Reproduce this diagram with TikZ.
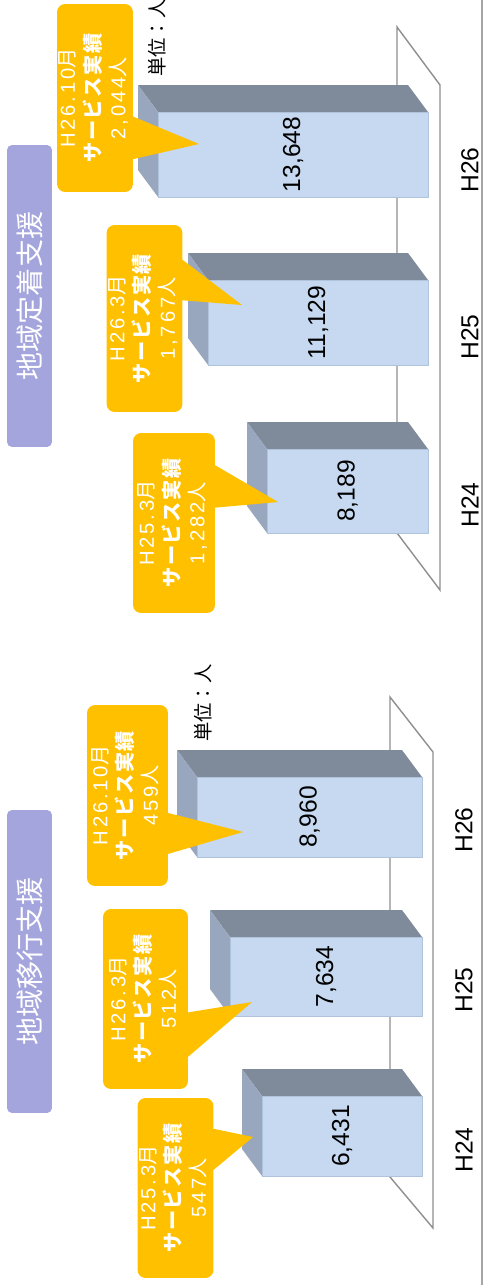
\documentclass[tikz,border=0pt]{standalone}
\usepackage{fontspec}
\usepackage{graphicx}
\setmainfont{Liberation Sans}
\newfontfamily\jp{Noto Sans CJK JP}
\newfontfamily\jpl{Noto Sans CJK JP}[LetterSpace=8]
\newfontfamily\spacednum{Liberation Sans}[LetterSpace=14]
\usetikzlibrary{calc}

\definecolor{barblue}{HTML}{C6D9F1}
\definecolor{barline}{HTML}{AFC3DC}
\definecolor{bardark}{HTML}{7F8A9A}
\definecolor{bartop}{HTML}{98A7BD}
\definecolor{callorange}{HTML}{FFC000}
\definecolor{titlepurple}{HTML}{A5A5DD}
\definecolor{floorgray}{HTML}{8F8F8F}

% one column: name, left, top, right, bottom, value (pixel units)
\newcommand{\colbar}[6]{%
  \fill[sideface] (#2,#3) -- ++(-20,-27) -- (#4-20,#3-27) -- (#4,#3) -- cycle;
  \fill[topface] (#2,#3) -- ++(-20,-27) -- (#2-20,#5-27) -- (#2,#5) -- cycle;
  \node[frontface, minimum width={0.02cm*(#4-#2)}, minimum height={0.02cm*(#5-#3)}]
    (#1) at ({(#2+#4)/2},{(#3+#5)/2}) {\rotatebox{90}{#6}};
}
% text of a callout: month, count
\newcommand{\calltext}[2]{\rotatebox{90}{\begin{tabular}{@{}c@{}}
  {\spacednum #1}{\jp 月}\\
  {\jpl\bfseries サービス実績}\\
  {\spacednum #2}{\jp 人}
\end{tabular}}}

\begin{document}
\begin{tikzpicture}[x=0.02cm, y=-0.02cm,
    frontface/.style={fill=barblue, draw=barline, line width=0.4pt, inner sep=0pt, outer sep=0pt,
      font=\fontsize{14}{16}\selectfont},
    sideface/.style={fill=bardark},
    topface/.style={fill=bartop},
    callout/.style={fill=callorange, rounded corners=0.16cm, inner sep=0pt, text=white,
      font=\fontsize{11.5}{14.4}\selectfont},
    titlebox/.style={fill=titlepurple, rounded corners=0.1cm, inner sep=0pt, text=white,
      minimum width=0.9cm, font=\jp\fontsize{16}{18}\selectfont},
    floor/.style={fill=white, draw=floorgray, line width=0.8pt},
    catlabel/.style={rotate=90, inner sep=0pt, font=\fontsize{14}{16}\selectfont},
    unitlabel/.style={rotate=90, inner sep=0pt, font=\jp\fontsize{11}{13}\selectfont}]
  \useasboundingbox (0,0) rectangle (484,1285);
  \draw[floorgray!80, line width=1pt] (482,0) -- (482,1285);

  % top chart: floor
  \draw[floor] (397,27) -- (440,85) -- (440,590) -- (397,533) -- cycle;
  % top chart: columns
  \colbar{fa26}{158}{112}{428}{197}{13,648}
  \colbar{fa25}{208}{280}{428}{365}{11,129}
  \colbar{fa24}{267}{449}{428}{533}{8,189}
  % top chart: callouts
  \node[callout, minimum width=1.48cm, minimum height=3.76cm] (fc26) at (95,98) {\calltext{H26.10}{2,044}};
  \coordinate (ft26) at (199,144);
  \fill[callorange] ($(fc26.east)+(-4,17)$) -- (ft26) -- ($(fc26.east)+(-4,62)$) -- cycle;
  \node[callout, minimum width=1.5cm, minimum height=3.74cm] (fc25) at (144.5,318.5) {\calltext{H26.3}{1,767}};
  \coordinate (ft25) at (242,305);
  \fill[callorange] ($(fc25.east)+(-4,-61.5)$) -- (ft25) -- ($(fc25.east)+(-4,-18.5)$) -- cycle;
  \node[callout, minimum width=1.64cm, minimum height=3.6cm] (fc24) at (174,523) {\calltext{H25.3}{1,282}};
  \coordinate (ft24) at (278,502);
  \fill[callorange] ($(fc24.east)+(-4,-60)$) -- (ft24) -- ($(fc24.east)+(-4,-15)$) -- cycle;
  % top chart: titles and labels
  \node[titlebox, minimum height=6.04cm] (ftitle) at (29.5,296) {\rotatebox{90}{地域定着支援}};
  \node[unitlabel] (funit) at (157,38) {単位：人};
  \node[catlabel] (fl26) at (470,170) {H26};
  \node[catlabel] (fl25) at (470,337) {H25};
  \node[catlabel] (fl24) at (470,505) {H24};

  % bottom chart: floor
  \draw[floor] (390,697) -- (433,752) -- (433,1228) -- (390,1177) -- cycle;
  % bottom chart: columns
  \colbar{ia26}{197}{777}{422}{857}{8,960}
  \colbar{ia25}{230}{937}{422}{1016}{7,634}
  \colbar{ia24}{262}{1096}{422}{1176}{6,431}
  % bottom chart: callouts
  \node[callout, minimum width=1.62cm, minimum height=3.62cm] (ic26) at (127.5,795.5) {\calltext{H26.10}{459}};
  \coordinate (it26) at (243,832);
  \fill[callorange] ($(ic26.east)+(-4,16.5)$) -- (it26) -- ($(ic26.east)+(-4,59.5)$) -- cycle;
  \node[callout, minimum width=1.7cm, minimum height=3.6cm] (ic25) at (145.5,999) {\calltext{H26.3}{512}};
  \coordinate (it25) at (252,1002);
  \fill[callorange] ($(ic25.east)+(-4,14)$) -- (it25) -- ($(ic25.east)+(-4,61)$) -- cycle;
  \node[callout, minimum width=1.5cm, minimum height=3.6cm] (ic24) at (175.5,1188) {\calltext{H25.3}{547}};
  \coordinate (it24) at (253,1137);
  \fill[callorange] ($(ic24.east)+(-4,-60)$) -- (it24) -- ($(ic24.east)+(-4,-15)$) -- cycle;
  % bottom chart: titles and labels
  \node[titlebox, minimum height=6.06cm] (ititle) at (29.5,961.5) {\rotatebox{90}{地域移行支援}};
  \node[unitlabel] (iunit) at (203,703) {単位：人};
  \node[catlabel] (il26) at (464,830) {H26};
  \node[catlabel] (il25) at (464,990) {H25};
  \node[catlabel] (il24) at (464,1150) {H24};
\end{tikzpicture}
\end{document}
